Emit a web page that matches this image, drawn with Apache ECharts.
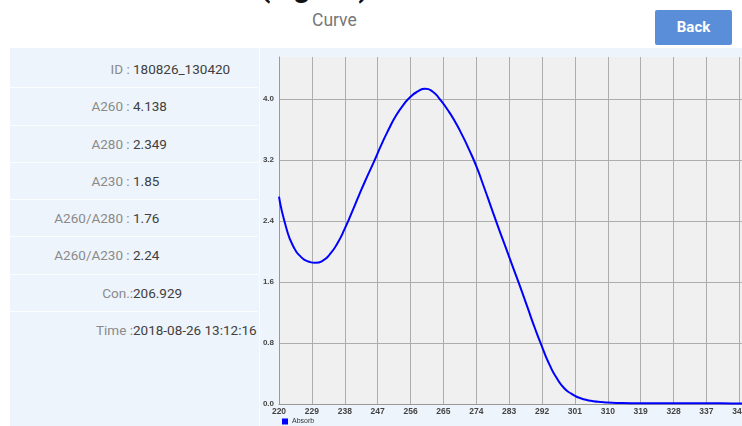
<!DOCTYPE html>
<html>
<head>
<meta charset="utf-8">
<script src="https://cdn.jsdelivr.net/npm/echarts@6/dist/echarts.min.js"></script>
<style>
  html, body { margin: 0; padding: 0; width: 742px; height: 426px; overflow: hidden; background: #ffffff; font-family: Roboto, "Noto Sans", sans-serif; }
  #head { position: absolute; left: 0; top: -31px; width: 742px; text-align: left; }
  #head span { position: absolute; left: 260px; top: 0; font-size: 30px; font-weight: bold; color: #111; white-space: nowrap; letter-spacing: 3px; }
  #title { position: absolute; left: 312px; top: 10px; font-size: 17.5px; color: #777; }
  #back { position: absolute; left: 655px; top: 10px; width: 77px; height: 35px; background: #5b8ed8; color: #fff; font-size: 15px; font-weight: bold; line-height: 35px; text-align: center; border-radius: 2px; }
  #panel { position: absolute; left: 10px; top: 48px; width: 732px; height: 378px; background: #eef4fb; }
  #divider { position: absolute; left: 259px; top: 48px; width: 1px; height: 378px; background: #f8fbff; }
  #info { position: absolute; left: 10px; top: 51px; width: 248px; }
  .row { height: 36.3px; line-height: 36px; border-bottom: 1px solid #fbfdff; font-size: 13.5px; white-space: pre; position: relative; }
  .row.last { border-bottom: none; }
  .lab { position: absolute; right: 125px; color: #8a8a8a; }
  .val { position: absolute; left: 123px; color: #404040; }
  #chart { position: absolute; left: 260px; top: 48px; width: 482px; height: 378px; }
</style>
</head>
<body>
<div id="head"><span>(ng/ul)</span></div>
<div id="title">Curve</div>
<div id="back">Back</div>
<div id="panel"></div>
<div id="divider"></div>
<div id="info"></div>
<div id="chart"></div>
<script>
// ---- data ----
const infoLabels = ["ID : ", "A260 : ", "A280 : ", "A230 : ", "A260/A280 : ", "A260/A230 : ", "Con.:", "Time :"];
const infoValues = ["180826_130420", "4.138", "2.349", "1.85", "1.76", "2.24", "206.929", "2018-08-26 13:12:16"];

const wavelengths = [220, 222, 224, 226, 228, 230, 232, 234, 236, 238, 240, 242, 244, 246, 248, 250,
  252, 254, 256, 258, 260, 262, 264, 266, 268, 270, 272, 274, 276, 278, 280, 282, 284, 286, 288,
  290, 292, 294, 296, 298, 300, 302, 304, 306, 308, 310, 314, 320, 326, 332, 338, 344, 347];
const absorb = [2.72, 2.31, 2.06, 1.93, 1.87, 1.853, 1.88, 1.97, 2.11, 2.30, 2.52, 2.75, 2.97, 3.18,
  3.40, 3.60, 3.78, 3.92, 4.03, 4.10, 4.135, 4.10, 4.00, 3.87, 3.72, 3.54, 3.34, 3.12, 2.86, 2.59,
  2.32, 2.06, 1.80, 1.54, 1.27, 1.00, 0.75, 0.52, 0.34, 0.21, 0.135, 0.085, 0.055, 0.037, 0.026,
  0.02, 0.014, 0.011, 0.01, 0.009, 0.009, 0.008, 0.008];

const xMin = 220, xMax = 347, xStep = 9;
const yTicks = [0, 0.8, 1.6, 2.4, 3.2, 4.0];
const yMax = 4.552;
const seriesName = "Absorb";

// ---- info panel ----
const info = document.getElementById('info');
infoLabels.forEach((l, i) => {
  const r = document.createElement('div');
  r.className = 'row' + (i === infoLabels.length - 1 ? ' last' : '');
  const a = document.createElement('span'); a.className = 'lab'; a.textContent = l;
  const b = document.createElement('span'); b.className = 'val'; b.textContent = infoValues[i];
  r.appendChild(a); r.appendChild(b); info.appendChild(r);
});

// ---- chart ----
const chart = echarts.init(document.getElementById('chart'));
const grid = '#adadad';
chart.setOption({
  animation: false,
  grid: { left: 19, top: 9, bottom: 22, right: -1, outerBoundsMode: 'none', containLabel: false,
          show: true, backgroundColor: '#f0f0f0', borderWidth: 0 },
  legend: {
    left: 22, top: 370, padding: 0, itemWidth: 6, itemHeight: 6, itemGap: 4,
    icon: 'rect', data: [seriesName],
    textStyle: { fontSize: 7, color: '#333', padding: [0, 0, 0, -1] }
  },
  xAxis: {
    type: 'value', min: xMin, max: xMax, interval: xStep,
    axisLine: { show: true, lineStyle: { color: '#999', width: 1 } },
    axisTick: { show: false },
    axisLabel: { showMaxLabel: false, fontSize: 8.5, color: '#444', fontWeight: 'bold', margin: 3 },
    splitLine: { show: true, lineStyle: { color: grid, width: 1 } }
  },
  yAxis: {
    type: 'value', min: 0, max: yMax,
    axisLine: { show: true, lineStyle: { color: '#999', width: 1 } },
    axisTick: { show: false, customValues: yTicks },
    axisLabel: { customValues: yTicks, fontSize: 8, color: '#444', fontWeight: 'bold', margin: 5,
      formatter: v => v.toFixed(1) },
    splitLine: { show: true, lineStyle: { color: grid, width: 1 } }
  },
  series: [{
    name: seriesName, type: 'line', smooth: 0.6, symbol: 'none',
    itemStyle: { color: '#0000ff' },
    lineStyle: { color: '#0000ff', width: 2 },
    data: wavelengths.map((w, i) => [w, absorb[i]])
  }]
});
</script>
</body>
</html>
